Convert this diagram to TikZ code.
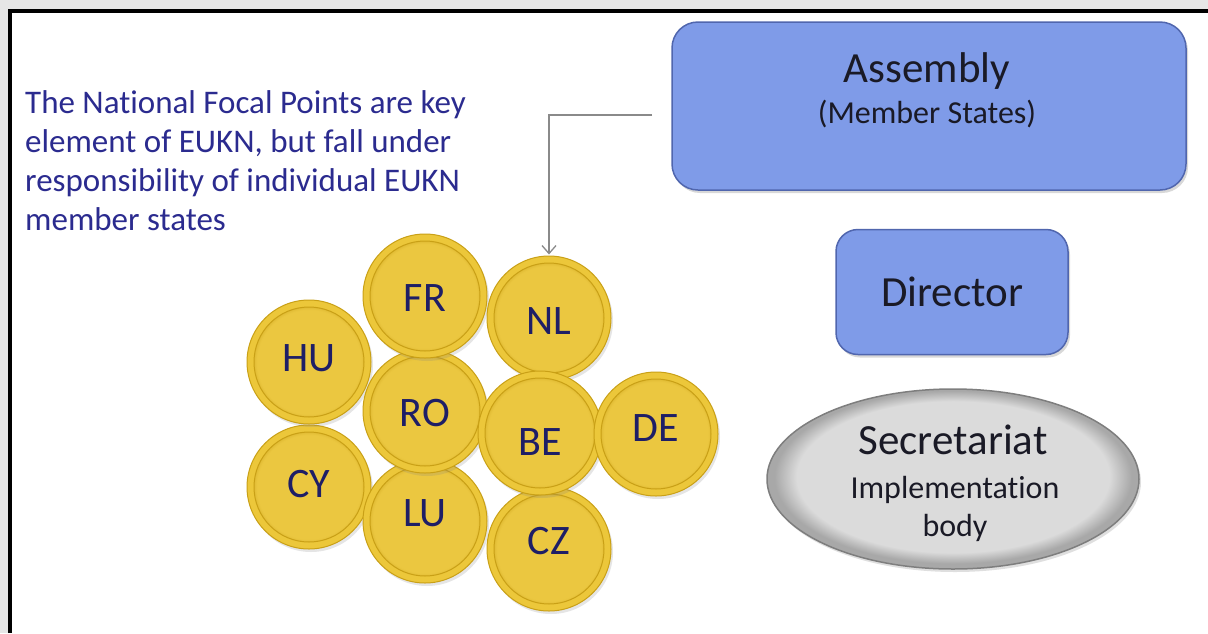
\documentclass[tikz,border=0pt]{standalone}
\usepackage{fontspec}
\setmainfont{Carlito}[Ligatures=NoCommon]
\usetikzlibrary{shapes.geometric,arrows.meta,shadows}
\definecolor{framegray}{HTML}{E6E6E6}
\definecolor{boxblue}{HTML}{7F9BE8}
\definecolor{boxedge}{HTML}{5066AE}
\definecolor{navy}{HTML}{2B2B8F}
\definecolor{coinnavy}{HTML}{1E1E66}
\definecolor{gold}{HTML}{ECC73A}
\definecolor{goldface}{HTML}{EBC740}
\definecolor{golddark}{HTML}{C9A018}
\definecolor{goldedge}{HTML}{C9A016}
\definecolor{boxtext}{HTML}{1A1A26}
\definecolor{ellmid}{HTML}{DBDBDB}
\definecolor{ellrim}{HTML}{A8A8A8}
\definecolor{elledge}{HTML}{7E7E7E}
\definecolor{arrowgray}{HTML}{8A8A8A}
\pgfdeclareradialshading{coinface}{\pgfpoint{0bp}{0bp}}{color(0bp)=(goldface); color(21bp)=(goldface); color(25bp)=(golddark); color(50bp)=(golddark)}
\pgfdeclareradialshading{ellface}{\pgfpoint{0bp}{1bp}}{color(0bp)=(ellmid); color(21bp)=(ellmid); color(24bp)=(ellrim); color(25bp)=(ellrim); color(50bp)=(ellrim)}
\tikzset{
  bluebox/.style={rectangle, rounded corners=26pt, fill=boxblue, draw=boxedge, line width=1.5pt, inner sep=0pt,
    drop shadow={opacity=0.3, shadow xshift=2pt, shadow yshift=-3pt}},
  coin/.style={circle, minimum size=124pt, inner sep=0pt, fill=gold, draw=goldedge, line width=1pt,
    drop shadow={opacity=0.2, shadow xshift=2pt, shadow yshift=-3pt},
    path picture={\shade[shading=coinface] (path picture bounding box.center) circle (55pt);
                  \draw[goldedge, line width=1pt] (path picture bounding box.center) circle (55pt);}},
  coinlabel/.style={text=coinnavy, font=\fontsize{42}{50}\selectfont, inner sep=0pt},
  bigtext/.style={text=boxtext, font=\fontsize{43}{52}\selectfont, inner sep=0pt},
  midtext/.style={text=boxtext, font=\fontsize{32}{38}\selectfont, inner sep=0pt},
  arrowline/.style={draw=arrowgray, line width=1.3pt, -{Straight Barb[length=8pt, width=14pt, line width=1.3pt]}},
}
\newcommand\coinat[5]{\node[coin, label={[coinlabel, yshift=#5]center:#4}] (#1) at (#2,#3) {};}
\begin{document}
\begin{tikzpicture}[x=1pt, y=-1pt]
\useasboundingbox (0,0) rectangle (1208,633);
\fill[framegray] (0,0) rectangle (1208,633);
\fill[white] (10,11) rectangle (1208,633);
\draw[black, line width=4pt] (10,633) -- (10,11) -- (1208,11);

% left text
\node[anchor=north west, inner sep=0pt, align=left, text=navy, font=\fontsize{33}{39}\selectfont] (note) at (25,90)
  {The National Focal Points are key\\element of EUKN, but fall under\\responsibility of individual EUKN\\member states};

% coins
\coinat{cy}{309}{487}{CY}{3pt}
\coinat{lu}{425}{521}{LU}{8pt}
\coinat{hu}{309}{362}{HU}{4pt}
\coinat{ro}{425}{411}{RO}{-2pt}
\coinat{fr}{425}{296}{FR}{-2pt}
\coinat{nl}{549}{318}{NL}{-3pt}
\coinat{cz}{549}{549}{CZ}{8pt}
\coinat{be}{540}{433}{BE}{-9pt}
\coinat{de}{656}{434}{DE}{6pt}

% right side
\node[bluebox, minimum width=514pt, minimum height=168pt] (assembly) at (929,106) {};
\node[bigtext, anchor=base] (asmtitle) at (927,82) {Assembly};
\node[midtext, anchor=base] (asmsub) at (927,123) {(Member States)};

\node[bluebox, rounded corners=22pt, minimum width=232pt, minimum height=125pt] (director) at (952,292) {};
\node[bigtext, anchor=base] (dirtext) at (952,306) {Director};

\node[ellipse, minimum width=372pt, minimum height=180pt, shading=ellface, draw=elledge, line width=1.5pt,
      drop shadow={opacity=0.25, shadow xshift=2pt, shadow yshift=-3pt}] (secretariat) at (953,479) {};
\node[bigtext, anchor=base] (sectitle) at (953,454) {Secretariat};
\node[midtext, anchor=base] (secsub) at (955,498) {Implementation};
\node[midtext, anchor=base] (secbody) at (955,536) {body};

% arrow
\coordinate (arrstart) at (652,115);
\draw[arrowline, shorten >=1pt] (arrstart) -| (nl.north);
\end{tikzpicture}
\end{document}
